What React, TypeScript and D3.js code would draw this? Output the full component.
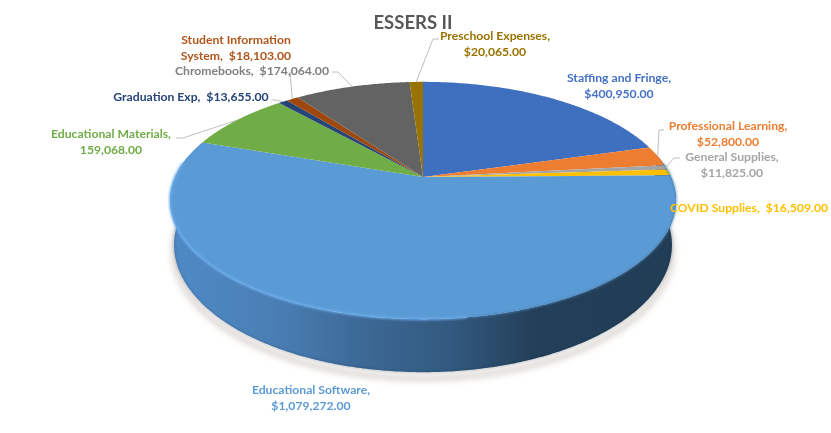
import * as d3 from 'd3';
import React from 'react';

const categories = ['Staffing and Fringe', 'Professional Learning', 'General Supplies', 'COVID Supplies', 'Educational Software', 'Educational Materials', 'Graduation Exp', 'Student Information System', 'Chromebooks', 'Preschool Expenses'];
const values = [400950, 52800, 11825, 16509, 1079272, 159068, 13655, 18103, 174064, 20065];
const colors = ['#3f6fbf', '#ed7d31', '#a5a5a5', '#ffc000', '#5b9bd5', '#70ad47', '#264478', '#9e480e', '#636363', '#997300'];
const labelColors = ['#4472c4', '#ed7d31', '#a5a5a5', '#ffc000', '#5b9bd5', '#70ad47', '#264478', '#b0561c', '#7f7f7f', '#997300'];
const labelLines = [
  ['Staffing and Fringe,', '$400,950.00'],
  ['Professional Learning,', '$52,800.00'],
  ['General Supplies,', '$11,825.00'],
  ['COVID Supplies,  $16,509.00'],
  ['Educational Software,', '$1,079,272.00'],
  ['Educational Materials,', '159,068.00'],
  ['Graduation Exp,  $13,655.00'],
  ['Student Information', 'System,  $18,103.00'],
  ['Chromebooks,  $174,064.00'],
  ['Preschool Expenses,', '$20,065.00'],
];
// label centre x / first baseline y
const labelPos = [
  [619, 82], [728, 130], [732, 161], [749, 212], [311, 394], [111, 138], [191, 101], [236, 44], [252, 75], [495, 40],
];
// leader elbows, in page pixels
const leaders: (number[][] | null)[] = [
  null,
  [[659, 130], [664, 130]],
  [[674, 158], [680, 158]],
  null,
  null,
  [[183, 138], [176, 138]],
  [[276, 100], [271, 100]],
  [[290, 72]],
  [[338, 72], [332, 72]],
  [[433, 39], [439, 39]],
];

const width = 831;
const height = 433;
const cx = 423;
const cy = 177;
const R = 248;
const S = 114;
const K = 0.198;
// the rim's ellipse centre sits at y 200.5; the lower edge of the wall is a slightly narrower, deeper ellipse
const rimMidY = 200.5;
const baseMidY = 245;
const baseScaleX = 0.984;
const baseScaleY = 1.072;

// tilted disc: angle (0 at 12 o'clock, clockwise) to page pixels
function project(a: number): [number, number] {
  const u = Math.sin(a);
  const v = -Math.cos(a);
  const w = 1 - K * v;
  return [cx + (R * u) / w, cy + (S * v) / w];
}

function projectBase(a: number, grow = 0): [number, number] {
  const p = project(a);
  return [cx + (p[0] - cx) * baseScaleX, baseMidY + (p[1] - rimMidY) * baseScaleY + grow];
}

const line = d3.line();
const font = 'Lato, "Open Sans", sans-serif';

export default function App() {
  const pie = d3.pie<number>().sort(null).startAngle(0).endAngle(2 * Math.PI);
  const arcs = pie(values);

  const slicePath = (start: number, end: number) => {
    const steps = d3.range(start, end, 0.01).concat(end);
    const pts: [number, number][] = [[cx, cy], ...steps.map((a) => project(a))];
    return line(pts) + 'Z';
  };

  // side wall, from right extreme round the front to left extreme
  const wallAngles = d3.range(1.37, 4.915, 0.01);
  const wallTop = wallAngles.map((a) => project(a));
  const wallBottom = wallAngles.map((a) => projectBase(a));
  const wallPath = line([...wallTop, ...wallBottom.slice().reverse()]) + 'Z';
  const baseEdge = line(wallBottom) ?? '';
  const shadowPath = line(wallAngles.map((a) => projectBase(a, 6))) ?? '';
  const rimPath = line(d3.range(3.0, 4.85, 0.01).map((a) => project(a))) ?? '';
  const rimShade = line(d3.range(1.45, 3.0, 0.01).map((a) => project(a))) ?? '';

  return (
    <svg width={width} height={height} style={{ position: 'absolute', left: 0, top: 0, background: '#fff' }}>
      <defs>
        <linearGradient id="wall" x1="170" x2="676" y1="0" y2="0" gradientUnits="userSpaceOnUse">
          <stop offset="0" stopColor="#4f8ac6" />
          <stop offset="0.2" stopColor="#4a7fb5" />
          <stop offset="0.4" stopColor="#3b6793" />
          <stop offset="0.55" stopColor="#335a80" />
          <stop offset="0.72" stopColor="#233f59" />
          <stop offset="1" stopColor="#223d56" />
        </linearGradient>
        <filter id="soft" x="-10%" y="-10%" width="120%" height="120%">
          <feGaussianBlur stdDeviation="3" />
        </filter>
        <filter id="rim" x="-10%" y="-10%" width="120%" height="120%">
          <feGaussianBlur stdDeviation="0.8" />
        </filter>
        <filter id="txt" x="-5%" y="-20%" width="110%" height="140%">
          <feGaussianBlur stdDeviation="0.3" />
        </filter>
      </defs>

      <path d={shadowPath} fill="none" stroke="#d4cfc9" strokeWidth={5} filter="url(#soft)" />
      <path d={wallPath} fill="url(#wall)" />
      <path d={baseEdge} fill="none" stroke="#1f3549" strokeWidth={0.8} opacity={0.6} filter="url(#rim)" />
      {arcs.map((d, i) => (
        <path key={categories[i]} d={slicePath(d.startAngle, d.endAngle)} fill={colors[i]} />
      ))}
      <path d={rimShade} fill="none" stroke="#4d86bd" strokeWidth={1.4} filter="url(#rim)" />
      <path d={rimPath} fill="none" stroke="#6caeee" strokeWidth={2} filter="url(#rim)" />

      {arcs.map((d, i) => {
        const elbow = leaders[i];
        if (!elbow) return null;
        const mid = project((d.startAngle + d.endAngle) / 2);
        return (
          <path key={i} d={line([mid, ...(elbow as [number, number][])]) ?? ''} fill="none" stroke="#bfbfbf" strokeWidth={1} />
        );
      })}

      <text x={413} y={29} textAnchor="middle" fontFamily={font} fontWeight={700} fontSize={18.5} fill="#595959" filter="url(#txt)">
        ESSERS II
      </text>
      {labelLines.map((lines, i) => (
        <text key={i} textAnchor="middle" fontFamily={font} fontWeight={700} fontSize={12.2} fill={labelColors[i]} filter="url(#txt)">
          {lines.map((t, j) => (
            <tspan key={j} x={labelPos[i][0]} y={labelPos[i][1] + j * 15.5} style={{ whiteSpace: 'pre' }}>
              {t}
            </tspan>
          ))}
        </text>
      ))}
    </svg>
  );
}
